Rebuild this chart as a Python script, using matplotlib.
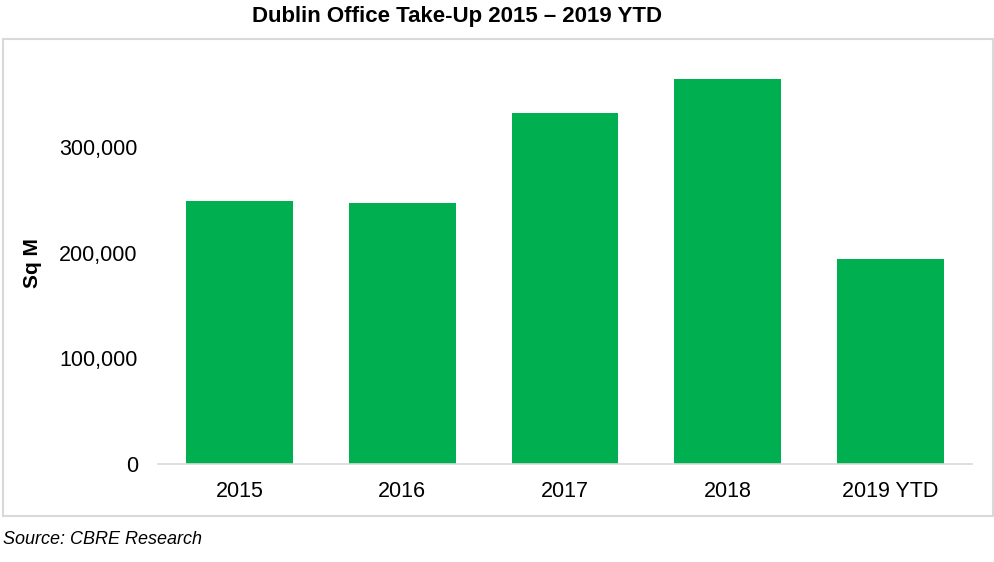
import matplotlib
matplotlib.use("Agg")
import matplotlib.pyplot as plt
from matplotlib.patches import Rectangle
from matplotlib.ticker import FuncFormatter

categories = ["2015", "2016", "2017", "2018", "2019 YTD"]
take_up = [249000, 246500, 332000, 364000, 193500]
y_ticks = [0, 100000, 200000, 300000]

plt.rcParams['font.family'] = ['Liberation Sans', 'DejaVu Sans']

W, H = 994, 562
fig = plt.figure(figsize=(W / 100, H / 100), dpi=100)

# outer box
fig.patches.append(Rectangle((3 / W, 1 - 516 / H), 990 / W, 477 / H,
                             transform=fig.transFigure, fill=False,
                             edgecolor='#d9d9d9', linewidth=1.5))

ax = fig.add_axes([158 / W, 1 - 464 / H, 814 / W, 423 / H])
x = range(len(categories))
ax.bar(x, take_up, width=0.657, color='#00b050')
ax.set_xlim(-0.5, len(categories) - 0.5)
ax.set_ylim(0, 400000)
ax.set_xticks(list(x))
ax.set_xticklabels(categories)
ax.set_yticks(y_ticks)
ax.yaxis.set_major_formatter(FuncFormatter(lambda v, p: f"{int(v):,}"))
ax.tick_params(axis='both', length=0, labelsize=15.5, colors='#000000')
ax.tick_params(axis='y', pad=14.5)
ax.tick_params(axis='x', pad=12)
for s in ['top', 'right', 'left']:
    ax.spines[s].set_visible(False)
ax.spines['bottom'].set_color('#d9d9d9')
ax.spines['bottom'].set_linewidth(1.2)

ax.set_ylabel("Sq M", fontsize=15, fontweight='bold')
ax.yaxis.set_label_coords(-0.1425, 0.475)

fig.text(457 / W, 1 - 22 / H, "Dublin Office Take-Up 2015 \u2013 2019 YTD",
         ha='center', va='baseline', fontsize=16, fontweight='bold')
fig.text(3 / W, 1 - 540 / H, "Source: CBRE Research", ha='left', va='center',
         fontsize=13, style='italic')

fig.savefig("out.png", dpi=100)
